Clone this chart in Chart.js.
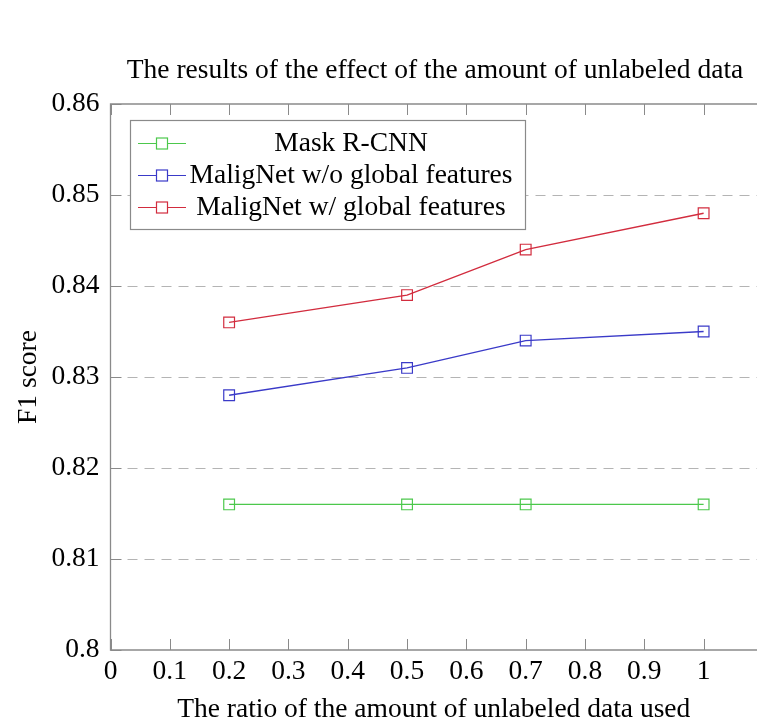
<!DOCTYPE html>
<html><head><meta charset="utf-8">
<script src="https://cdn.jsdelivr.net/npm/chart.js@4.4.1/dist/chart.umd.min.js"></script>
<style>html,body{margin:0;padding:0;background:#fff;}#wrap{width:757px;height:721px;}</style>
</head><body><div id="wrap"><canvas id="c" width="757" height="721"></canvas></div>
<script>
const titleText = 'The results of the effect of the amount of unlabeled data';
const xTitle = 'The ratio of the amount of unlabeled data used';
const yTitle = 'F1 score';
const ratios = [0.2, 0.5, 0.7, 1];
const maskRCNN = [0.816, 0.816, 0.816, 0.816];
const malignetNoGlobal = [0.828, 0.831, 0.834, 0.835];
const malignetGlobal = [0.836, 0.839, 0.844, 0.848];
const seriesNames = ['Mask R-CNN', 'MaligNet w/o global features', 'MaligNet w/ global features'];
const seriesColors = ['#4cc84c', '#3a3ac8', '#d22c3e'];
const xTicks = [0, 0.1, 0.2, 0.3, 0.4, 0.5, 0.6, 0.7, 0.8, 0.9, 1];
const yTicks = [0.8, 0.81, 0.82, 0.83, 0.84, 0.85, 0.86];

const FONT = "'Liberation Serif', 'DejaVu Serif', serif";
const AXIS = '#8a8a8a';

const seriesValues = [maskRCNN, malignetNoGlobal, malignetGlobal];
const datasets = seriesNames.map((name, i) => ({
  label: name,
  data: ratios.map((x, j) => ({x: x, y: seriesValues[i][j]})),
  borderColor: seriesColors[i],
  backgroundColor: '#ffffff',
  borderWidth: 1.4,
  pointStyle: 'rect',
  pointRadius: 7.6,
  pointHoverRadius: 7.6,
  pointBorderWidth: 1.2,
  pointBorderColor: seriesColors[i],
  pointBackgroundColor: 'rgba(255,255,255,0)',
  tension: 0,
  fill: false
}));

const framePlugin = {
  id: 'frame',
  beforeDatasetsDraw(chart) {
    const {ctx, chartArea: a, scales: {x, y}} = chart;
    ctx.save();
    ctx.strokeStyle = '#b4b4b4';
    ctx.lineWidth = 1;
    ctx.setLineDash([10, 7]);
    yTicks.forEach(v => {
      if (v === yTicks[0] || v === yTicks[yTicks.length - 1]) return;
      const py = Math.round(y.getPixelForValue(v)) + 0.5;
      ctx.beginPath(); ctx.moveTo(a.left, py); ctx.lineTo(a.right, py); ctx.stroke();
    });
    ctx.setLineDash([]);
    ctx.strokeStyle = AXIS;
    ctx.lineWidth = 1.3;
    ctx.beginPath();
    ctx.moveTo(a.right, a.top); ctx.lineTo(a.left, a.top); ctx.lineTo(a.left, a.bottom); ctx.lineTo(a.right, a.bottom);
    ctx.stroke();
    ctx.lineWidth = 1;
    const tl = 11;
    xTicks.forEach(v => {
      const px = Math.round(x.getPixelForValue(v)) + 0.5;
      ctx.beginPath();
      ctx.moveTo(px, a.bottom); ctx.lineTo(px, a.bottom - tl);
      ctx.moveTo(px, a.top); ctx.lineTo(px, a.top + tl);
      ctx.stroke();
    });
    yTicks.forEach(v => {
      const py = Math.round(y.getPixelForValue(v)) + 0.5;
      ctx.beginPath(); ctx.moveTo(a.left, py); ctx.lineTo(a.left + tl, py); ctx.stroke();
    });
    ctx.restore();
  },
  afterDraw(chart) {
    const {ctx} = chart;
    ctx.save();
    ctx.fillStyle = '#000';
    ctx.font = '27.5px ' + FONT;
    ctx.textAlign = 'center';
    ctx.textBaseline = 'middle';
    ctx.fillText(titleText, 435, 71);
    const bx = 130.5, by = 120.5, bw = 395, bh = 109;
    ctx.fillStyle = '#fff';
    ctx.fillRect(bx, by, bw, bh);
    ctx.strokeStyle = '#8a8a8a';
    ctx.lineWidth = 1.2;
    ctx.strokeRect(bx, by, bw, bh);
    chart.data.datasets.forEach((ds, i) => {
      const cy = 143 + i * 32;
      ctx.strokeStyle = ds.borderColor;
      ctx.lineWidth = 1.2;
      ctx.beginPath(); ctx.moveTo(138, cy + 0.5); ctx.lineTo(186, cy + 0.5); ctx.stroke();
      ctx.fillStyle = '#fff';
      ctx.fillRect(156.5, cy - 5, 11, 11);
      ctx.strokeRect(156.5, cy - 5, 11, 11);
      ctx.fillStyle = '#000';
      ctx.font = '27.5px ' + FONT;
      ctx.textAlign = 'center';
      ctx.textBaseline = 'middle';
      ctx.fillText(ds.label, 351, cy + 1);
    });
    ctx.restore();
  }
};

new Chart(document.getElementById('c'), {
  type: 'line',
  data: {datasets: datasets},
  plugins: [framePlugin],
  options: {
    responsive: false,
    animation: false,
    devicePixelRatio: 1,
    layout: {autoPadding: false, padding: {top: 104, left: 0, right: 0, bottom: 0}},
    plugins: {legend: {display: false}, title: {display: false}, tooltip: {enabled: false}},
    scales: {
      x: {
        type: 'linear', min: 0, max: 1.09,
        afterBuildTicks: s => { s.ticks = xTicks.map(v => ({value: v})); },
        afterFit: s => { s.height = 71; s.paddingLeft = 0; s.paddingRight = 0; },
        grid: {display: false, drawTicks: false},
        border: {display: false},
        ticks: {
          color: '#000', padding: 5, maxRotation: 0, autoSkip: false,
          font: {family: FONT, size: 27.5},
          callback: v => String(Math.round(v * 10) / 10)
        },
        title: {display: true, text: xTitle, color: '#000', font: {family: FONT, size: 27.5}, padding: {top: 0, bottom: -5}}
      },
      y: {
        type: 'linear', min: 0.8, max: 0.86,
        afterBuildTicks: s => { s.ticks = yTicks.map(v => ({value: v})); },
        afterFit: s => { s.width = 110.5; s.paddingTop = 0; s.paddingBottom = 0; },
        grid: {display: false, drawTicks: false},
        border: {display: false},
        ticks: {
          color: '#000', padding: 11, autoSkip: false,
          font: {family: FONT, size: 27.5},
          callback: v => String(Math.round(v * 100) / 100)
        },
        title: {display: true, text: yTitle, color: '#000', font: {family: FONT, size: 27.5}, padding: {top: 12, bottom: 0}}
      }
    }
  }
});
</script></body></html>
